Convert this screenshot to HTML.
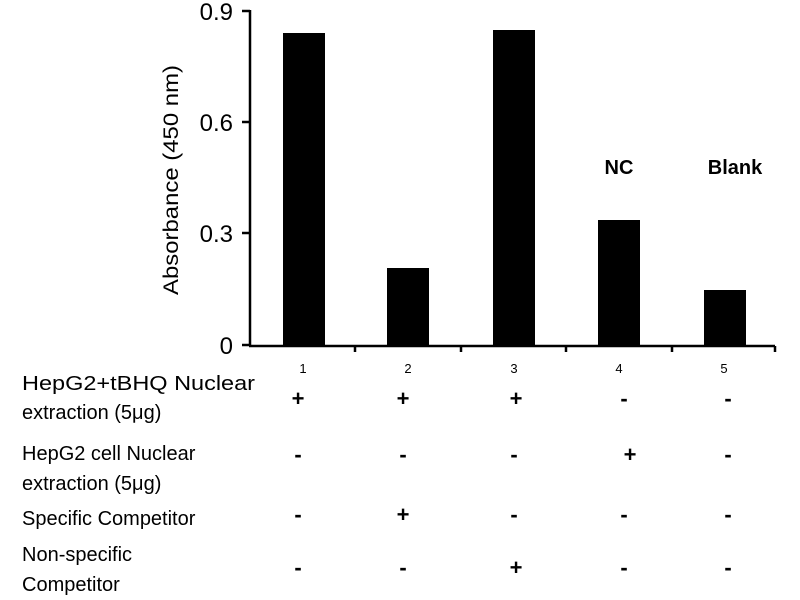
<!DOCTYPE html>
<html><head><style>
body{margin:0;background:#fff;}
svg{display:block;font-family:"Liberation Sans",sans-serif;}
</style></head><body>
<svg width="800" height="600" xmlns="http://www.w3.org/2000/svg">
<g fill="#000">
<rect x="283" y="33" width="42" height="312"/>
<rect x="387" y="268" width="42" height="77"/>
<rect x="493" y="30" width="42" height="315"/>
<rect x="598" y="220" width="42" height="125"/>
<rect x="704" y="290" width="42" height="55"/>
</g>
<g stroke="#000" stroke-width="2.5" fill="none">
<line x1="250" y1="10" x2="250" y2="346"/>
<line x1="249" y1="346" x2="775" y2="346"/>
<line x1="242" y1="11" x2="250" y2="11"/>
<line x1="242" y1="122" x2="250" y2="122"/>
<line x1="242" y1="233" x2="250" y2="233"/>
<line x1="242" y1="345" x2="250" y2="345"/>
<line x1="355" y1="346" x2="355" y2="352"/>
<line x1="461" y1="346" x2="461" y2="352"/>
<line x1="566" y1="346" x2="566" y2="352"/>
<line x1="672" y1="346" x2="672" y2="352"/>
<line x1="775" y1="346" x2="775" y2="352"/>
</g>
<g font-size="24" fill="#000" text-anchor="end">
<text x="233" y="20">0.9</text>
<text x="233" y="131">0.6</text>
<text x="233" y="242">0.3</text>
<text x="233" y="354">0</text>
</g>
<text transform="translate(178,180) rotate(-90)" font-size="21" text-anchor="middle" textLength="230" lengthAdjust="spacingAndGlyphs">Absorbance (450 nm)</text>
<g font-size="13" text-anchor="middle">
<text x="303" y="373">1</text><text x="408" y="373">2</text><text x="514" y="373">3</text><text x="619" y="373">4</text><text x="724" y="373">5</text>
</g>
<g font-size="20" font-weight="bold" text-anchor="middle">
<text x="619" y="174">NC</text><text x="735" y="174">Blank</text>
</g>
<g font-size="20">
<text x="22" y="390" textLength="233" lengthAdjust="spacingAndGlyphs">HepG2+tBHQ Nuclear</text>
<text x="22" y="419">extraction (5μg)</text>
<text x="22" y="460">HepG2 cell Nuclear</text>
<text x="22" y="490">extraction (5μg)</text>
<text x="22" y="525">Specific Competitor</text>
<text x="22" y="561">Non-specific</text>
<text x="22" y="591">Competitor</text>
</g>
<g font-size="22" font-weight="bold" text-anchor="middle">
<text x="298" y="406">+</text><text x="403" y="406">+</text><text x="516" y="406">+</text><text x="624" y="406">-</text><text x="728" y="406">-</text>
<text x="298" y="462">-</text><text x="403" y="462">-</text><text x="514" y="462">-</text><text x="630" y="462">+</text><text x="728" y="462">-</text>
<text x="298" y="522">-</text><text x="403" y="522">+</text><text x="514" y="522">-</text><text x="624" y="522">-</text><text x="728" y="522">-</text>
<text x="298" y="575">-</text><text x="403" y="575">-</text><text x="516" y="575">+</text><text x="624" y="575">-</text><text x="728" y="575">-</text>
</g>
</svg>
</body></html>
